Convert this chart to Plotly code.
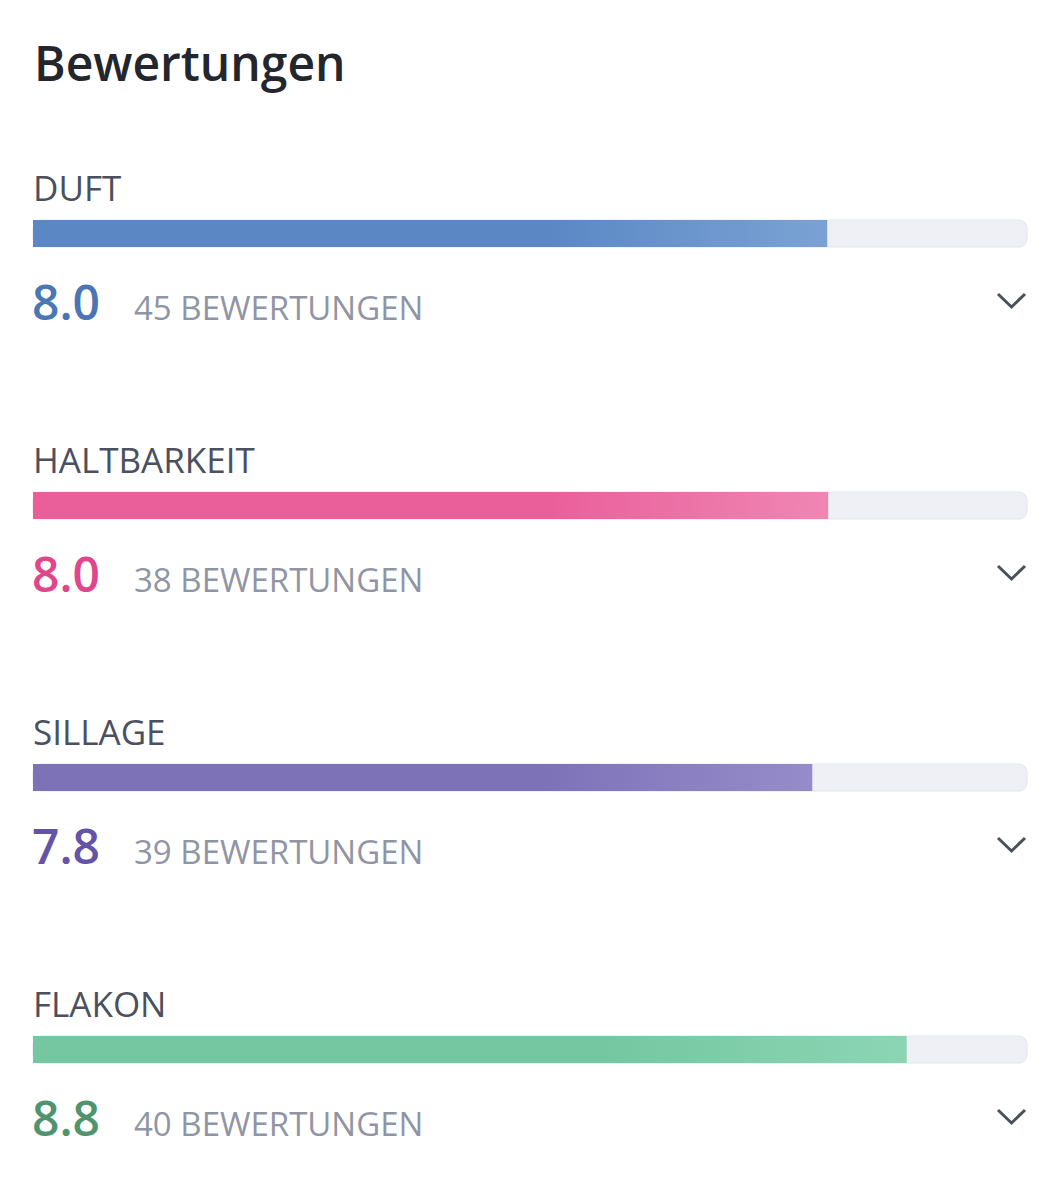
import plotly.graph_objects as go

# ---- data ----
categories = ["DUFT", "HALTBARKEIT", "SILLAGE", "FLAKON"]
scores = [7.99, 8.0, 7.84, 8.79]          # bar lengths (scale 0-10)
rating_counts = [45, 38, 39, 40]
max_score = 10
title_text = "Bewertungen"
count_suffix = "BEWERTUNGEN"

# ---- styles ----
fill_colors = [("#5b88c5", "#7aa2d4"), ("#ea5f9a", "#ef86b3"),
               ("#7d72b8", "#968cca"), ("#74c7a1", "#8cd5b4")]
number_colors = ["#4b76b4", "#e0468b", "#6453a6", "#4f946f"]
label_color = "#4a505e"
count_color = "#8f95a5"
title_color = "#23262d"
track_color = "#eff0f5"
FONT = "Open Sans"

W, H = 1060, 1200
X0, X1 = 33, 1027            # pixel span of the 0..max track
scale = (X1 - X0) / max_score

def px2x(px):
    return (px - X0) / scale

ROW0 = 0
ROW_STEP = 272
BAR_TOP = 220
BAR_H = 27

fig = go.Figure()

annotations = []

for i, cat in enumerate(categories):
    off = ROW0 + i * ROW_STEP
    top = BAR_TOP + off
    bot = top + BAR_H
    mid = (top + bot) / 2
    # track
    fig.add_trace(go.Bar(
        x=[max_score], y=[mid], base=[0], orientation="h", width=BAR_H,
        marker=dict(color=track_color, line=dict(color="#e4e6ed", width=1)),
        hoverinfo="skip", showlegend=False))
    # filled part with gradient
    v = scores[i]
    c0, c1 = fill_colors[i]
    fig.add_trace(go.Scatter(
        x=[0, v, v, 0, 0], y=[top, top, bot, bot, top],
        mode="lines", line=dict(width=0), fill="toself",
        fillgradient=dict(type="horizontal",
                          colorscale=[[0, c0], [0.65, c0], [1, c1]]),
        hoverinfo="skip", showlegend=False))
    # category label
    annotations.append(dict(x=px2x(31), y=187 + off, text=cat, showarrow=False,
                            xanchor="left", yanchor="middle", xref="x", yref="y",
                            font=dict(family=FONT, size=35, color=label_color)))
    # score number
    annotations.append(dict(x=px2x(30), y=301 + off, text=f"{round(v, 1):.1f}",
                            showarrow=False, xanchor="left", yanchor="middle",
                            xref="x", yref="y",
                            font=dict(family=FONT, size=48, color=number_colors[i],
                                      weight=600)))
    # count
    annotations.append(dict(x=px2x(132), y=307 + off,
                            text=f"{rating_counts[i]} {count_suffix}",
                            showarrow=False, xanchor="left", yanchor="middle",
                            xref="x", yref="y",
                            font=dict(family=FONT, size=33, color=count_color)))
    # chevron
    fig.add_trace(go.Scatter(
        x=[px2x(998), px2x(1011.5), px2x(1025)],
        y=[294 + off, 307 + off, 294 + off],
        mode="lines", line=dict(color="#4b505c", width=3),
        hoverinfo="skip", showlegend=False))

annotations.append(dict(x=px2x(32), y=62, text=title_text, showarrow=False,
                        xanchor="left", yanchor="middle", xref="x", yref="y",
                        font=dict(family=FONT, size=48, color=title_color, weight=600)))

fig.update_layout(
    width=W, height=H,
    margin=dict(l=0, r=0, t=0, b=0),
    paper_bgcolor="white", plot_bgcolor="white",
    barmode="overlay", barcornerradius=8,
    xaxis=dict(range=[px2x(0), px2x(W)], visible=False, fixedrange=True),
    yaxis=dict(range=[H, 0], visible=False, fixedrange=True),
    annotations=annotations,
    showlegend=False,
)

fig.write_html("out.html", config={"displayModeBar": False})
